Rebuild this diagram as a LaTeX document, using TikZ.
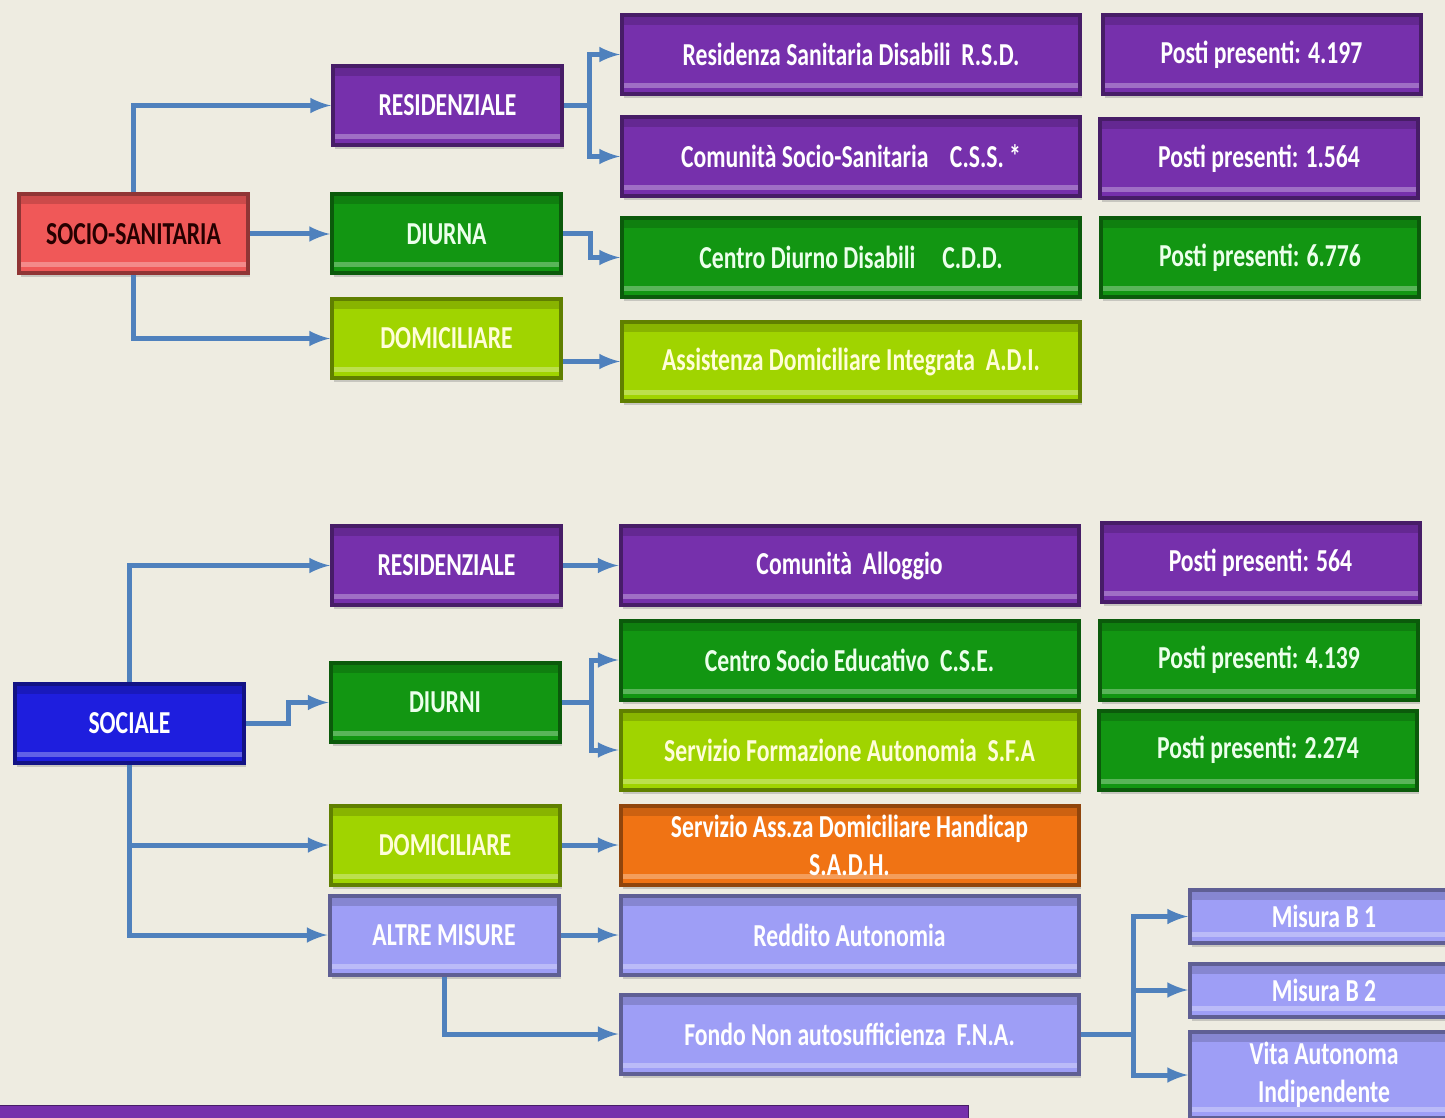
\documentclass[tikz,border=0pt]{standalone}
\usepackage{fontspec}
\setmainfont{Carlito}[FakeStretch=0.74]
\usetikzlibrary{shadows}

\definecolor{bg}{RGB}{238,236,225}
\definecolor{conn}{RGB}{79,129,189}
\definecolor{purp}{RGB}{118,48,172}
\definecolor{gren}{RGB}{18,150,18}
\definecolor{lime}{RGB}{160,212,0}
\definecolor{rd}{RGB}{240,88,88}
\definecolor{blu}{RGB}{30,30,222}
\definecolor{orng}{RGB}{240,115,20}
\definecolor{lav}{RGB}{158,158,246}

\begin{document}
\begin{tikzpicture}[x=0.5pt,y=-0.5pt,>=latex,
  box/.style={rectangle, draw=#1!60!black, fill=#1, line width=2pt,
    minimum height=39.5pt, text=white, align=center, inner sep=1pt,
    font=\fontsize{16}{19}\selectfont\bfseries,
    drop shadow={opacity=.35,shadow xshift=1pt,shadow yshift=-2pt},
    path picture={
      \fill[black,opacity=.15] (path picture bounding box.north west) rectangle ([yshift=-5pt]path picture bounding box.north east);
      \fill[white,opacity=.3] ([yshift=3pt]path picture bounding box.south west) rectangle ([yshift=5.5pt]path picture bounding box.south east);}},
  mid/.style={minimum width=114.5pt},
  wide/.style={minimum width=229pt},
  posti/.style={minimum width=159pt},
  misura/.style={minimum width=134pt, minimum height=26.5pt},
  link/.style={draw=conn, line width=2.5pt, ->}]
\clip (0,0) rectangle (1445,1118);
\fill[bg] (0,0) rectangle (1445,1118);

% socio-sanitaria
\node[box=rd, mid, text=black!85!red](ss) at (133.5,234) {SOCIO-SANITARIA};
\node[box=purp, mid](res1) at (447.5,105.5) {RESIDENZIALE};
\node[box=gren, mid, text=green!8!white](diu1) at (446.5,234) {DIURNA};
\node[box=lime, mid, text=yellow!15!white](dom1) at (446.5,338.5) {DOMICILIARE};

\node[box=purp, wide](rsd) at (851,54.5) {Residenza Sanitaria Disabili~~R.S.D.};
\node[box=purp, wide](css) at (851,156.5) {Comunità Socio-Sanitaria~~~~C.S.S. *};
\node[box=gren, wide, text=green!8!white](cdd) at (851,257.5) {Centro Diurno Disabili~~~~~C.D.D.};
\node[box=lime, wide, text=yellow!15!white](adi) at (851,361.5) {Assistenza Domiciliare Integrata~~A.D.I.};

\node[box=purp, posti](p1) at (1261.5,54.5) {Posti presenti: 4.197};
\node[box=purp, posti](p2) at (1259,158.5) {Posti presenti: 1.564};
\node[box=gren, posti, text=green!8!white](p3) at (1260,257.5) {Posti presenti: 6.776};

\draw[link] (ss.north) |- (res1.west);
\draw[link] (ss.east) -- (diu1.west);
\draw[link] (ss.south) |- (dom1.west);
\draw[link] (res1.east) -- ++(25,0) |- (rsd.west);
\draw[link] (res1.east) -- ++(25,0) |- (css.west);
\draw[link] (diu1.east) -- ++(27,0) |- (cdd.west);
\draw[link] (dom1.east |- adi.west) -- (adi.west);

% sociale
\node[box=blu, mid](soc) at (129.5,723.5) {SOCIALE};
\node[box=purp, mid](res2) at (446.5,565.5) {RESIDENZIALE};
\node[box=gren, mid, text=green!8!white](diu2) at (445,702.5) {DIURNI};
\node[box=lime, mid, text=yellow!15!white](dom2) at (445,845) {DOMICILIARE};
\node[box=lav, mid](alt) at (444,935) {ALTRE MISURE};

\node[box=purp, wide](ca) at (849.5,565.5) {Comunità~~Alloggio};
\node[box=gren, wide, text=green!8!white](cse) at (849.5,660) {Centro Socio Educativo~~C.S.E.};
\node[box=lime, wide, text=yellow!15!white](sfa) at (849.5,750) {Servizio Formazione Autonomia~~S.F.A};
\node[box=orng, wide](sadh) at (849.5,845) {Servizio Ass.za Domiciliare Handicap\\S.A.D.H.};
\node[box=lav, wide](red) at (849.5,935) {Reddito Autonomia};
\node[box=lav, wide](fna) at (849.5,1034) {Fondo Non autosufficienza~~F.N.A.};

\node[box=purp, posti](p4) at (1260.5,562.5) {Posti presenti: 564};
\node[box=gren, posti, text=green!8!white](p5) at (1259,660) {Posti presenti: 4.139};
\node[box=gren, posti, text=green!8!white](p6) at (1258,750) {Posti presenti: 2.274};

\node[box=lav, misura](b1) at (1324,916.5) {Misura B 1};
\node[box=lav, misura](b2) at (1324,990) {Misura B 2};
\node[box=lav, misura, minimum height=43pt](vai) at (1324,1075) {Vita Autonoma\\Indipendente};

\draw[link] (soc.north) |- (res2.west);
\draw[link] (soc.east) -- ++(42,0) |- (diu2.west);
\draw[link] (soc.south) |- (dom2.west);
\draw[link] (soc.south) |- (alt.west);
\draw[link] (res2.east) -- (ca.west);
\draw[link] (diu2.east) -- ++(30,0) |- (cse.west);
\draw[link] (diu2.east) -- ++(30,0) |- (sfa.west);
\draw[link] (dom2.east) -- (sadh.west);
\draw[link] (alt.east) -- (red.west);
\draw[link] (alt.south) |- (fna.west);
\draw[link] (fna.east) -- ++(53,0) |- (b1.west);
\draw[link] (fna.east) -- ++(53,0) |- (b2.west);
\draw[link] (fna.east) -- ++(53,0) |- (vai.west);

\fill[purp, draw=purp!60!black] (-5,1105) rectangle (968,1125);
\end{tikzpicture}
\end{document}
